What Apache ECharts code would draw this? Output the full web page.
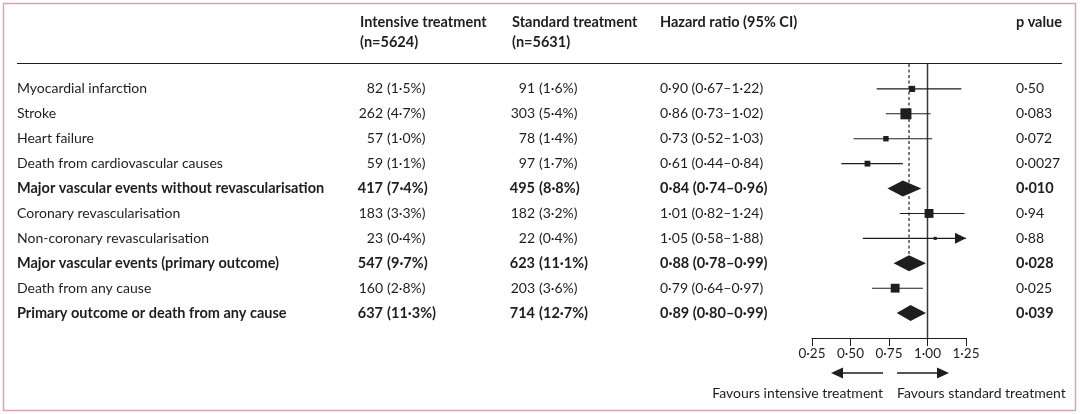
<!DOCTYPE html>
<html>
<head>
<meta charset="utf-8">
<script src="https://cdn.jsdelivr.net/npm/echarts@6/dist/echarts.min.js"></script>
<style>
html,body{margin:0;padding:0;background:#fff;}
#chart{width:1080px;height:414px;}
</style>
</head>
<body>
<div id="chart"></div>
<script>
// ---- data ----
var outcomes = ['Myocardial infarction','Stroke','Heart failure','Death from cardiovascular causes',
  'Major vascular events without revascularisation','Coronary revascularisation',
  'Non-coronary revascularisation','Major vascular events (primary outcome)',
  'Death from any cause','Primary outcome or death from any cause'];
var isSummary = [false,false,false,false,true,false,false,true,false,true];
var intensiveN = [82,262,57,59,417,183,23,547,160,637];
var intensivePct = [1.5,4.7,1.0,1.1,7.4,3.3,0.4,9.7,2.8,11.3];
var standardN = [91,303,78,97,495,182,22,623,203,714];
var standardPct = [1.6,5.4,1.4,1.7,8.8,3.2,0.4,11.1,3.6,12.7];
var hazardRatio = [0.90,0.86,0.73,0.61,0.84,1.01,1.05,0.88,0.79,0.89];
var ciLow = [0.67,0.73,0.52,0.44,0.74,0.82,0.58,0.78,0.64,0.80];
var ciHigh = [1.22,1.02,1.03,0.84,0.96,1.24,1.88,0.99,0.97,0.99];
var pValues = ['0·50','0·083','0·072','0·0027','0·010','0·94','0·88','0·028','0·025','0·039'];
var xTicks = [0.25,0.50,0.75,1.00,1.25];
var primaryIndex = 7;

// ---- helpers ----
var FONT = 'Lato, "Open Sans", sans-serif';
var INK = '#1e1e1e';
function fmt(v, d){ return v.toFixed(d).replace('.', '\u00b7'); }
function font(bold){ return bold ? ('bold 14.5px ' + FONT) : ('14px ' + FONT); }

var axisMin = xTicks[0], axisMax = xTicks[xTicks.length-1];
var tickStep = xTicks[1] - xTicks[0];

var rows = outcomes.map(function(o,i){ return [hazardRatio[i], i, ciLow[i], ciHigh[i]]; });

var COL = { label:17, intCount:383, intPct:387, stdCount:535, stdPct:539, hr:660, p:1016 };

var chart = echarts.init(document.getElementById('chart'), null, {renderer:'canvas'});

var option = {
  backgroundColor:'#fff',
  animation:false,
  grid:{ left:812, width:154, top:64, height:274 },
  xAxis:{
    type:'value', min:axisMin, max:axisMax, interval:tickStep,
    axisLine:{ show:true, onZero:false, lineStyle:{ color:INK, width:1 } },
    axisTick:{ show:true, length:8, lineStyle:{ color:INK, width:1 } },
    axisLabel:{ margin:9, color:INK, fontSize:13.5, fontFamily:FONT,
      formatter:function(v){ return fmt(v,2); } },
    splitLine:{ show:false }
  },
  yAxis:{ type:'value', min:-1, max:outcomes.length, inverse:true, show:false },
  graphic:[
    { type:'rect', shape:{x:3.5,y:3.5,width:1072,height:407}, style:{fill:'none', stroke:'#dca3b0', lineWidth:1.5}, z:100 },
    { type:'line', shape:{x1:17,y1:63.5,x2:1062,y2:63.5}, style:{stroke:INK, lineWidth:1.2} },
    { type:'text', x:360, y:22, style:{text:'Intensive treatment', font:font(true), fill:INK, verticalAlign:'middle'} },
    { type:'text', x:360, y:42, style:{text:'(n=5624)', font:font(true), fill:INK, verticalAlign:'middle'} },
    { type:'text', x:512, y:22, style:{text:'Standard treatment', font:font(true), fill:INK, verticalAlign:'middle'} },
    { type:'text', x:512, y:42, style:{text:'(n=5631)', font:font(true), fill:INK, verticalAlign:'middle'} },
    { type:'text', x:660, y:22, style:{text:'Hazard ratio (95% CI)', font:font(true), fill:INK, verticalAlign:'middle'} },
    { type:'text', x:1062, y:22, style:{text:'p value', font:font(true), fill:INK, align:'right', verticalAlign:'middle'} },
    // favours arrows
    { type:'line', shape:{x1:883,y1:373,x2:842,y2:373}, style:{stroke:INK, lineWidth:1.5} },
    { type:'polygon', shape:{points:[[831,373],[843,367.5],[843,378.5]]}, style:{fill:INK} },
    { type:'line', shape:{x1:897,y1:373,x2:938,y2:373}, style:{stroke:INK, lineWidth:1.5} },
    { type:'polygon', shape:{points:[[949,373],[937,367.5],[937,378.5]]}, style:{fill:INK} },
    { type:'text', x:883, y:393, style:{text:'Favours intensive treatment', font:font(false), fill:INK, align:'right', verticalAlign:'middle'} },
    { type:'text', x:897, y:393, style:{text:'Favours standard treatment', font:font(false), fill:INK, align:'left', verticalAlign:'middle'} }
  ],
  series:[
    // line of no effect
    { type:'line', data:[[1,-1],[1,outcomes.length]], symbol:'none', silent:true,
      lineStyle:{ color:'#3a3a3a', width:1.5 }, z:1 },
    // dashed line at primary outcome HR
    { type:'line', data:[[hazardRatio[primaryIndex],-1],[hazardRatio[primaryIndex],primaryIndex]], symbol:'none', silent:true,
      lineStyle:{ color:INK, width:1.2, type:[3,2.5] }, z:1 },
    // forest marks
    { type:'custom', data:rows, z:3, clip:false,
      renderItem:function(params, api){
        var i = params.dataIndex;
        var hr = api.value(0), lo = api.value(2), hi = api.value(3);
        var c = api.coord([hr, i]);
        var y = c[1];
        var pLo = api.coord([Math.max(lo, axisMin), i])[0];
        var pHi = api.coord([Math.min(hi, axisMax), i])[0];
        var children = [];
        if (isSummary[i]) {
          children.push({ type:'polygon', shape:{points:[[pLo,y],[c[0],y-8],[pHi,y],[c[0],y+8]]}, style:{fill:INK} });
        } else {
          children.push({ type:'line', shape:{x1:pLo,y1:y,x2:pHi,y2:y}, style:{stroke:INK, lineWidth:1.1} });
          if (hi > axisMax) {
            children.push({ type:'polygon', shape:{points:[[pHi,y],[pHi-11,y-5.5],[pHi-11,y+5.5]]}, style:{fill:INK} });
          }
          var s = Math.sqrt((intensiveN[i] + standardN[i]) * 0.215);
          children.push({ type:'rect', shape:{x:c[0]-s/2, y:y-s/2, width:s, height:s}, style:{fill:INK} });
        }
        return { type:'group', children:children };
      }
    },
    // table text
    { type:'custom', data:rows, z:3, clip:false,
      renderItem:function(params, api){
        var i = params.dataIndex;
        var y = api.coord([axisMin, i])[1];
        var b = isSummary[i];
        function t(x, text, align){
          return { type:'text', x:x, y:y, style:{ text:text, font:font(b), fill:INK, align:align||'left', verticalAlign:'middle' } };
        }
        return { type:'group', children:[
          t(COL.label, outcomes[i]),
          t(COL.intCount, String(intensiveN[i]), 'right'),
          t(COL.intPct, '(' + fmt(intensivePct[i],1) + '%)'),
          t(COL.stdCount, String(standardN[i]), 'right'),
          t(COL.stdPct, '(' + fmt(standardPct[i],1) + '%)'),
          t(COL.hr, fmt(hazardRatio[i],2) + ' (' + fmt(ciLow[i],2) + '\u2013' + fmt(ciHigh[i],2) + ')'),
          t(COL.p, pValues[i])
        ]};
      }
    }
  ]
};
chart.setOption(option);
</script>
</body>
</html>
